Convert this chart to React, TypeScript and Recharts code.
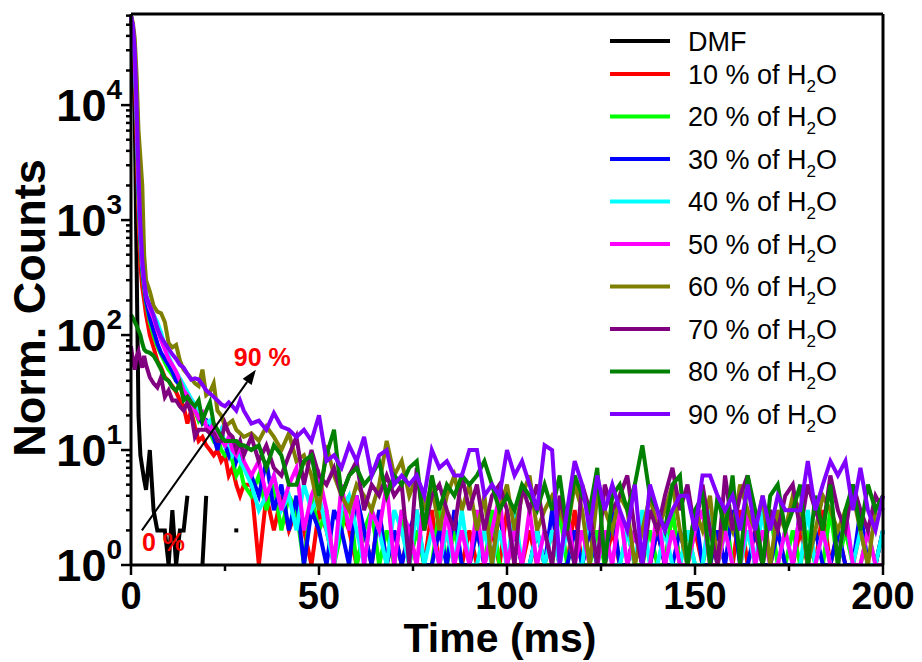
import React from 'react';
import { LineChart, Line, XAxis, YAxis, Legend, ReferenceLine } from 'recharts';

// time axis (ms): fine steps during the fast decay, 2 ms afterwards
const time = [
  0, 0.5, 1, 1.5, 2, 2.5, 3, 3.5, 4,
  5, 6, 7, 8, 9, 10, 11, 12, 13, 14,
  15, 16, 17, 18, 19, 20, 21, 22, 23, 24,
  25, 26, 27, 28, 29, 30,
  32, 34, 36, 38, 40, 42, 44, 46, 48, 50,
  52, 54, 56, 58, 60, 62, 64, 66, 68, 70,
  72, 74, 76, 78, 80, 82, 84, 86, 88, 90,
  92, 94, 96, 98, 100, 102, 104, 106, 108, 110,
  112, 114, 116, 118, 120, 122, 124, 126, 128, 130,
  132, 134, 136, 138, 140, 142, 144, 146, 148, 150,
  152, 154, 156, 158, 160, 162, 164, 166, 168, 170,
  172, 174, 176, 178, 180, 182, 184, 186, 188, 190,
  192, 194, 196, 198, 200,
];

// counts (null = no count, not drawn on the log axis)
const dmf = [
  60000, 30000, 8000, 400, 20, 9, 7, 5.5, 4.5,
  10, 3, 2, 2, 2, 1, 3, 1, 2, 2,
  4, null, null, null, 1, 4, null, null, null, null,
  null, null, null, 2, null, null,
];

const w10 = [
  60000, 40000, 20000, 5000, 1000, 400, 260, 200, 150,
  100, 78, 60, 52, 43, 40, 36, 32, 27, 24,
  17, 22, 16, 12, 13, 11, 10, 9, 10, 8,
  9, 6, 7, 5, 4, 5,
  5, 1, 4, 2, 4, 2, 3, 2, 1, 3,
  2, 1, 3, 2, 1, 2, 1, 3, 1, 2,
  1, 2, 1, 1, 3, 1, 2, 1, 1, 2,
  1, 1, 2, 1, 3, 1, 1, 2, 1, 1,
  2, 1, 1, 3, 1, 2, 1, 1, 2, 1,
  1, 2, 1, 1, 2, 1, 3, 1, 1, 2,
  1, 1, 2, 1, 1, 3, 1, 2, 1, 1,
  2, 1, 1, 2, 1, 1, 3, 1, 2, 1,
  1, 2, 1, 1, 2,
];

const w20 = [
  60000, 45000, 25000, 7000, 1500, 600, 350, 250, 190,
  130, 100, 80, 68, 58, 50, 45, 40, 36, 30,
  27, 25, 22, 18, 20, 16, 14, 12, 13, 10,
  9, 10, 8, 6, 7, 5,
  4, 6, 3, 5, 2, 4, 3, 1, 4, 2,
  3, 1, 2, 4, 1, 2, 3, 1, 2, 1,
  3, 1, 2, 1, 1, 3, 1, 2, 1, 1,
  2, 1, 3, 1, 1, 2, 1, 1, 2, 1,
  1, 3, 1, 2, 1, 1, 2, 1, 3, 1,
  2, 1, 1, 2, 1, 1, 3, 1, 2, 1,
  1, 2, 1, 3, 1, 1, 2, 1, 1, 3,
  1, 1, 2, 1, 2, 1, 1, 3, 1, 2,
  1, 1, 2, 1, 2,
];

const w30 = [
  60000, 45000, 25000, 8000, 1800, 700, 380, 270, 200,
  140, 110, 85, 70, 62, 55, 48, 40, 37, 33,
  28, 24, 25, 20, 17, 18, 15, 13, 10, 14,
  11, 9, 12, 8, 10, 7,
  6, 4, 8, 3, 5, 2, 4, 1, 3, 2,
  1, 3, 2, 1, 4, 2, 1, 3, 1, 2,
  1, 2, 3, 1, 1, 2, 1, 3, 1, 1,
  2, 1, 1, 3, 1, 2, 1, 1, 2, 1,
  3, 1, 1, 2, 1, 2, 1, 1, 3, 1,
  1, 2, 1, 1, 2, 1, 1, 2, 1, 3,
  1, 1, 2, 1, 3, 1, 1, 2, 1, 1,
  2, 1, 1, 3, 1, 2, 1, 1, 2, 1,
  1, 3, 1, 1, 2,
];

const w40 = [
  60000, 48000, 28000, 9000, 2200, 800, 420, 300, 230,
  170, 150, 130, 105, 80, 65, 55, 48, 42, 37,
  32, 28, 25, 22, 20, 17, 18, 14, 13, 15,
  11, 12, 9, 10, 8, 7,
  5, 3, 4, 6, 3, 4, 2, 5, 3, 4,
  2, 1, 3, 4, 2, 1, 3, 2, 1, 3,
  2, 1, 3, 1, 2, 1, 2, 1, 3, 1,
  1, 2, 1, 2, 1, 3, 1, 1, 2, 1,
  2, 1, 2, 1, 1, 3, 1, 2, 1, 1,
  2, 1, 3, 1, 1, 2, 1, 1, 2, 1,
  1, 3, 1, 2, 1, 1, 2, 1, 3, 1,
  1, 2, 1, 1, 3, 1, 2, 1, 1, 3,
  1, 2, 1, 1, 2,
];

const w50 = [
  60000, 48000, 28000, 9000, 2300, 850, 430, 290, 220,
  170, 140, 110, 90, 75, 62, 55, 48, 40, 33,
  30, 26, 22, 19, 21, 16, 15, 17, 14, 12,
  11, 13, 10, 9, 11, 8,
  6, 8, 4, 6, 3, 5, 7, 2, 4, 6,
  3, 1, 5, 2, 4, 1, 3, 2, 5, 1,
  3, 2, 1, 4, 2, 1, 3, 1, 2, 1,
  3, 1, 2, 4, 1, 2, 1, 3, 1, 2,
  1, 1, 3, 1, 2, 1, 1, 2, 1, 3,
  1, 2, 1, 1, 3, 1, 2, 1, 1, 2,
  3, 1, 1, 2, 1, 1, 3, 1, 2, 1,
  1, 2, 1, 3, 1, 1, 2, 1, 1, 3,
  1, 1, 2, 1, 1,
];

const w60 = [
  60000, 52000, 38000, 18000, 6000, 3500, 2000, 500, 300,
  240, 180, 160, 155, 130, 85, 78, 82, 60, 50,
  46, 42, 38, 36, 50, 30, 32, 38, 22, 20,
  16, 17, 18, 15, 14, 13,
  14, 12, 16, 13, 10, 14, 8, 9, 6, 3,
  11, 6, 4, 3, 5, 4, 3, 5, 12, 6,
  8, 4, 6, 3, 5, 2, 4, 6, 3, 5,
  2, 4, 1, 3, 5, 2, 4, 6, 2, 3,
  4, 3, 2, 5, 3, 1, 4, 3, 2, 4,
  3, 1, 2, 4, 2, 3, 5, 2, 1, 3,
  2, 4, 1, 3, 2, 5, 3, 2, 4, 1,
  3, 2, 4, 3, 1, 2, 4, 3, 2, 3,
  4, 2, 1, 3, 4,
];

const w70 = [
  80, 60, 50, 65, 72, 60, 52, 66, 55,
  43, 38, 35, 43, 29, 33, 27, 27, 24, 22,
  26, 21, 13, 15, 15, 15, 14, 14, 12, 12,
  17, 14, 13, 10, 12, 9,
  13, 8, 11, 7, 6, 9, 13, 5, 10, 6,
  5, 7, 4, 6, 8, 3, 5, 4, 6, 4,
  5, 1, 7, 2, 4, 5, 3, 2, 6, 3,
  5, 2, 4, 5, 3, 1, 5, 3, 5, 2,
  1, 4, 2, 1, 5, 3, 1, 5, 3, 4,
  6, 2, 1, 3, 2, 4, 7, 3, 5, 2,
  5, 2, 1, 6, 2, 4, 6, 2, 1, 3,
  2, 4, 5, 2, 5, 3, 2, 6, 3, 2,
  5, 3, 2, 4, 3,
];

const w80 = [
  150, 140, 130, 120, 110, 100, 85, 75, 72,
  70, 66, 58, 50, 42, 40, 35, 33, 38, 27,
  29, 26, 24, 27, 18, 22, 26, 17, 15, 13,
  12, 12, 12, 12, 11, 11,
  10, 11, 7, 11, 9, 5, 5, 8, 9, 4,
  9, 15, 4, 6, 7, 5, 6, 8, 4, 6,
  5, 7, 8, 2, 6, 3, 5, 4, 6, 5,
  6, 8, 5, 3, 4, 3, 5, 4, 3, 5,
  3, 6, 2, 6, 4, 3, 7, 1, 4, 5,
  3, 5, 11, 4, 3, 2, 5, 6, 1, 3,
  4, 1, 4, 2, 6, 1, 6, 3, 1, 4,
  5, 2, 3, 5, 1, 4, 2, 5, 1, 3,
  5, 2, 5, 3, 4,
];

const w90 = [
  60000, 50000, 30000, 10000, 2500, 900, 450, 300, 220,
  180, 150, 115, 96, 85, 76, 68, 62, 55, 52,
  46, 41, 42, 41, 37, 33, 31, 29, 27, 25,
  24, 26, 24, 22, 27, 22,
  17, 18, 15, 21, 16, 15, 13, 15, 12, 20,
  8, 9, 7, 11, 8, 13, 6, 9, 10, 5,
  6, 5, 6, 4, 10, 7, 8, 6, 6, 10,
  10, 4, 5, 4, 10, 6, 8, 5, 3, 11,
  10, 1, 3, 8, 5, 2, 6, 3, 5, 3,
  2, 5, 1, 5, 3, 2, 3, 4, 4, 2,
  6, 6, 4, 3, 4, 2, 5, 2, 4, 2,
  4, 3, 3, 3, 8, 3, 5, 8, 6, 8,
  3, 7, 3, 2, 4,
];

const seriesKeys = ['dmf', 'w10', 'w20', 'w30', 'w40', 'w50', 'w60', 'w70', 'w80', 'w90'];
const seriesValues = [dmf, w10, w20, w30, w40, w50, w60, w70, w80, w90];
const seriesNames = [
  'DMF', '10 % of H2O', '20 % of H2O', '30 % of H2O', '40 % of H2O',
  '50 % of H2O', '60 % of H2O', '70 % of H2O', '80 % of H2O', '90 % of H2O',
];
const seriesColors = [
  '#000000', '#ff0000', '#00ff00', '#0000ff', '#00ffff',
  '#ff00ff', '#808000', '#800080', '#008000', '#8000ff',
];

const xTicks = [0, 25, 50, 75, 100, 125, 150, 175, 200];
const xLabelled = [0, 50, 100, 150, 200];
const yMajor = [1, 10, 100, 1000, 10000];
const yTicks = [
  1, 2, 3, 4, 5, 6, 7, 8, 9,
  10, 20, 30, 40, 50, 60, 70, 80, 90,
  100, 200, 300, 400, 500, 600, 700, 800, 900,
  1000, 2000, 3000, 4000, 5000, 6000, 7000, 8000, 9000,
  10000, 20000, 30000, 40000, 50000, 60000,
];

const arrowFrom = { t: 2.9, v: 2 };
const arrowTo = { t: 33.2, v: 50 };

const data = time.map((t, i) => {
  const row: Record<string, number | null> = { t };
  seriesKeys.forEach((k, s) => {
    const v = seriesValues[s][i];
    row[k] = v === undefined ? null : v;
  });
  return row;
});

const FONT = "'Liberation Sans', Arial, sans-serif";

const XTick = (props: any) => {
  const { x, y, payload } = props;
  const major = xLabelled.includes(payload.value);
  return (
    <g>
      <line x1={x} y1={y} x2={x} y2={y + (major ? 10 : 6)} stroke="#000" strokeWidth={2.5} />
      {major && (
        <text x={x} y={y + 44} textAnchor="middle" fontSize={38} fontWeight="bold" fontFamily={FONT} fill="#000">
          {payload.value}
        </text>
      )}
    </g>
  );
};

const YTick = (props: any) => {
  const { x, y, payload } = props;
  const major = yMajor.includes(payload.value);
  const exp = Math.round(Math.log10(payload.value));
  return (
    <g>
      <line x1={x} y1={y} x2={x - (major ? 10 : 5)} y2={y} stroke="#000" strokeWidth={2.5} />
      {major && (
        <text x={x - 9} y={y + 16} textAnchor="end" fontSize={45} fontWeight="bold" fontFamily={FONT} fill="#000">
          10
          <tspan dy={-22} fontSize={28}>{exp}</tspan>
        </text>
      )}
    </g>
  );
};

// black arrow with the 0 % / 90 % marks
const ArrowShape = (p: any) => {
  const { x1, y1, x2, y2 } = p;
  const dx = x2 - x1;
  const dy = y2 - y1;
  const len = Math.hypot(dx, dy) || 1;
  const ux = dx / len;
  const uy = dy / len;
  const bx = x2 - ux * 15;
  const by = y2 - uy * 15;
  const hw = 5.5;
  return (
    <g>
      <line x1={x1} y1={y1} x2={bx} y2={by} stroke="#000" strokeWidth={2} />
      <polygon points={`${x2},${y2} ${bx - uy * hw},${by + ux * hw} ${bx + uy * hw},${by - ux * hw}`} fill="#000" />
      <text x={x1} y={y1 + 21} fontSize={25} fontWeight="bold" fontFamily={FONT} fill="#ff0000">0 %</text>
      <text x={x2 - 22} y={y2 - 4} fontSize={25} fontWeight="bold" fontFamily={FONT} fill="#ff0000">90 %</text>
    </g>
  );
};

const LegendBox = () => (
  <svg width={270} height={420} style={{ display: 'block' }}>
    {seriesNames.map((name, i) => {
      const cy = i === 0 ? 21 : 54 + (i - 1) * 42.5;
      const water = name.endsWith('H2O');
      return (
        <g key={name}>
          <line x1={10} y1={cy} x2={70} y2={cy} stroke={seriesColors[i]} strokeWidth={4} />
          <text x={88} y={cy + 9.5} fontSize={27} fontFamily={FONT} fill="#000">
            {water ? name.slice(0, -2) : name}
            {water && <tspan dy={8} fontSize={17}>2</tspan>}
            {water && <tspan dy={-8}>O</tspan>}
          </text>
        </g>
      );
    })}
  </svg>
);

const isolatedDot = (p: any) => {
  const i = p.index;
  const v = dmf[i];
  const prev = i > 0 ? dmf[i - 1] : null;
  const next = i + 1 < dmf.length ? dmf[i + 1] : null;
  if (v == null || p.cy == null || prev != null || next != null) return <g key={`dot-${i}`} />;
  return <rect key={`dot-${i}`} x={p.cx - 2} y={p.cy - 2} width={4} height={4} fill="#000" />;
};

const App: React.FC = () => {
  return (
    <div style={{ position: 'absolute', left: 0, top: 0, width: 922, height: 662, background: '#fff' }}>
      <LineChart width={922} height={662} data={data} margin={{ top: 13, right: 38, left: 0, bottom: 0 }}>
        <XAxis
          dataKey="t"
          type="number"
          domain={[0, 200]}
          ticks={xTicks}
          interval={0}
          height={97}
          tickSize={0}
          tickMargin={0}
          tickLine={false}
          tick={(p: any) => <XTick {...p} />}
          axisLine={{ stroke: '#000', strokeWidth: 3 }}
          label={() => (
            <text x={500} y={652} textAnchor="middle" fontSize={41} fontWeight="bold" fontFamily={FONT} fill="#000">
              Time (ms)
            </text>
          )}
        />
        <XAxis
          xAxisId="top"
          orientation="top"
          dataKey="t"
          type="number"
          domain={[0, 200]}
          height={1}
          tick={false}
          tickLine={false}
          axisLine={{ stroke: '#000', strokeWidth: 3 }}
        />
        <YAxis
          scale="log"
          type="number"
          domain={[1, 62000]}
          allowDataOverflow
          ticks={yTicks}
          interval={0}
          width={131}
          tickSize={0}
          tickMargin={0}
          tickLine={false}
          tick={(p: any) => <YTick {...p} />}
          axisLine={{ stroke: '#000', strokeWidth: 3 }}
          label={() => (
            <text
              x={45}
              y={308}
              transform="rotate(-90, 45, 308)"
              textAnchor="middle"
              fontSize={45}
              fontWeight="bold"
              fontFamily={FONT}
              fill="#000"
            >
              Norm. Counts
            </text>
          )}
        />
        <YAxis
          yAxisId="right"
          orientation="right"
          type="number"
          domain={[0, 1]}
          width={1}
          tick={false}
          tickLine={false}
          axisLine={{ stroke: '#000', strokeWidth: 3 }}
        />
        <Legend
          layout="vertical"
          align="center"
          verticalAlign="middle"
          wrapperStyle={{ left: 600, top: 20, width: 270, height: 420 }}
          content={() => <LegendBox />}
        />
        {seriesKeys.map((k, s) => (
          <Line
            key={k}
            type="linear"
            dataKey={k}
            name={seriesNames[s]}
            stroke={seriesColors[s]}
            strokeWidth={4}
            dot={k === 'dmf' ? isolatedDot : false}
            activeDot={false}
            connectNulls={false}
            isAnimationActive={false}
          />
        ))}
        <ReferenceLine
          segment={[
            { x: arrowFrom.t, y: arrowFrom.v },
            { x: arrowTo.t, y: arrowTo.v },
          ]}
          ifOverflow="visible"
          shape={ArrowShape}
        />
      </LineChart>
    </div>
  );
};

export default App;
